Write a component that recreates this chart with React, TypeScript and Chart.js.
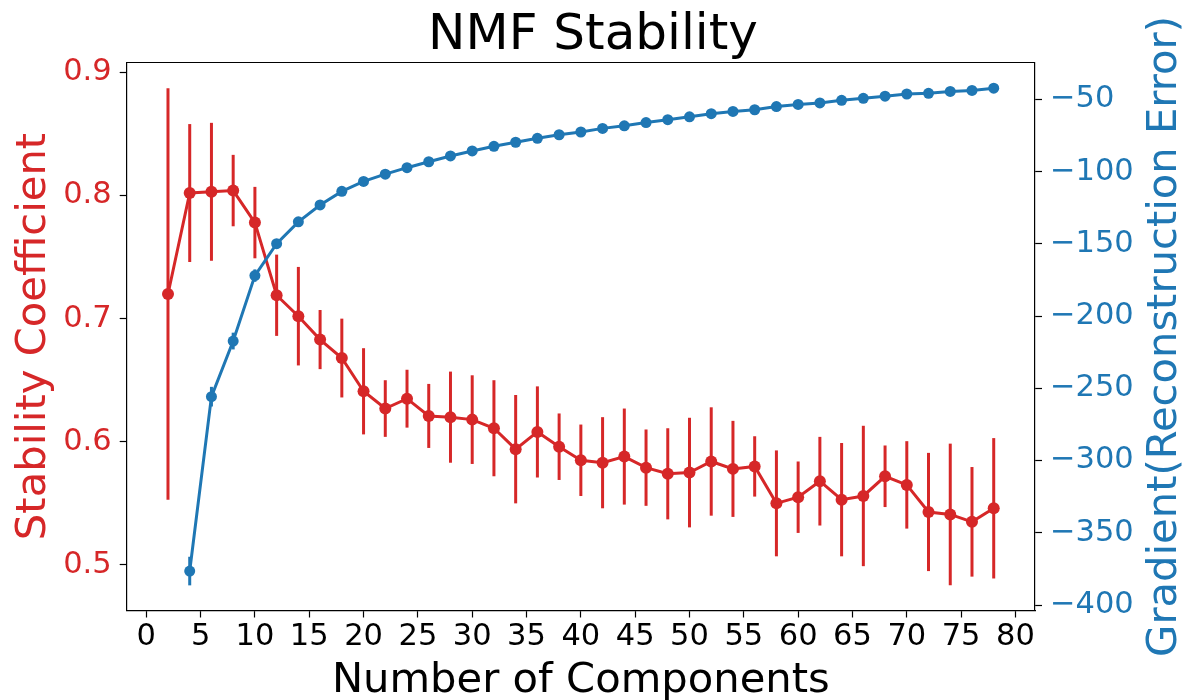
import React, { useEffect, useRef } from "react";
import { Chart, registerables } from "chart.js";

Chart.register(...registerables);

const FONT = "'DejaVu Sans', 'Liberation Sans', sans-serif";
const RED = "#d62728";
const BLUE = "#1f77b4";

// Stability coefficient (left axis)
const componentsRed = [2, 4, 6, 8, 10, 12, 14, 16, 18, 20, 22, 24, 26, 28, 30, 32, 34, 36, 38, 40, 42, 44, 46, 48, 50, 52, 54, 56, 58, 60, 62, 64, 66, 68, 70, 72, 74, 76, 78];
const stabilityMean = [0.72, 0.802, 0.803, 0.804, 0.778, 0.719, 0.702, 0.683, 0.668, 0.641, 0.627, 0.635, 0.621, 0.62, 0.618, 0.611, 0.594, 0.608, 0.596, 0.585, 0.583, 0.588, 0.579, 0.574, 0.575, 0.584, 0.578, 0.58, 0.55, 0.555, 0.568, 0.553, 0.556, 0.572, 0.565, 0.543, 0.541, 0.535, 0.546];
const stabilityErr = [0.167, 0.056, 0.056, 0.029, 0.029, 0.033, 0.04, 0.024, 0.032, 0.035, 0.023, 0.0235, 0.026, 0.037, 0.036, 0.039, 0.044, 0.037, 0.027, 0.029, 0.037, 0.039, 0.031, 0.037, 0.0445, 0.044, 0.039, 0.0245, 0.043, 0.029, 0.036, 0.046, 0.057, 0.025, 0.0355, 0.048, 0.0575, 0.0445, 0.057];

// Gradient of reconstruction error (right axis)
const componentsBlue = [4, 6, 8, 10, 12, 14, 16, 18, 20, 22, 24, 26, 28, 30, 32, 34, 36, 38, 40, 42, 44, 46, 48, 50, 52, 54, 56, 58, 60, 62, 64, 66, 68, 70, 72, 74, 76, 78];
const gradientMean = [-376.5, -255.8, -217.3, -172, -149.9, -134.8, -123.1, -113.7, -106.8, -101.8, -97.3, -93.2, -89.2, -85.7, -82.5, -79.7, -77.0, -74.5, -72.6, -70.1, -68.3, -66.1, -64.1, -62.1, -59.9, -58.4, -57.2, -55.0, -53.5, -52.5, -50.7, -49.3, -47.8, -46.3, -45.8, -44.5, -43.8, -42.3];
const gradientErr = [9.9, 6.8, 5.8, 4.3, 2.5, 2.0, 1.8, 1.5, 1.3, 1.2, 1.1, 1.0, 1.0, 0.9, 0.9, 0.8, 0.8, 0.8, 0.7, 0.7, 0.7, 0.7, 0.6, 0.6, 0.6, 0.6, 0.6, 0.6, 0.5, 0.5, 0.5, 0.5, 0.5, 0.5, 0.5, 0.5, 0.5, 0.5];

const xTicks = [0, 5, 10, 15, 20, 25, 30, 35, 40, 45, 50, 55, 60, 65, 70, 75, 80];
const leftTicks = [0.5, 0.6, 0.7, 0.8, 0.9];
const rightTicks = [-400, -350, -300, -250, -200, -150, -100, -50];

const TITLE = "NMF Stability";
const X_LABEL = "Number of Components";
const LEFT_LABEL = "Stability Coefficient";
const RIGHT_LABEL = "Gradient(Reconstruction Error)";

const errorsByDataset: number[][] = [gradientErr, stabilityErr];

const errorBarPlugin = {
  id: "errorBars",
  beforeDatasetDraw(chart: any, args: any) {
    const ds = chart.data.datasets[args.index];
    const errs = errorsByDataset[args.index];
    if (!errs) return;
    const xs = chart.scales.x;
    const ys = chart.scales[ds.yAxisID];
    const ctx = chart.ctx;
    ctx.save();
    ctx.strokeStyle = ds.borderColor;
    ctx.lineWidth = 3;
    ctx.lineCap = "butt";
    ds.data.forEach((p: any, i: number) => {
      const px = xs.getPixelForValue(p.x);
      ctx.beginPath();
      ctx.moveTo(px, ys.getPixelForValue(p.y - errs[i]));
      ctx.lineTo(px, ys.getPixelForValue(p.y + errs[i]));
      ctx.stroke();
    });
    ctx.restore();
  },
};

const framePlugin = {
  id: "frameAndTitles",
  afterDraw(chart: any) {
    const { ctx, chartArea } = chart;
    ctx.save();
    ctx.strokeStyle = "#000";
    ctx.lineWidth = 1.2;
    ctx.beginPath();
    ctx.moveTo(chartArea.left, chartArea.top);
    ctx.lineTo(chartArea.right, chartArea.top);
    ctx.stroke();

    const cx = (chartArea.left + chartArea.right) / 2;
    const cy = (chartArea.top + chartArea.bottom) / 2;
    ctx.font = `41.7px ${FONT}`;
    ctx.textAlign = "center";
    ctx.textBaseline = "alphabetic";

    ctx.fillStyle = "#000";
    ctx.fillText(X_LABEL, cx, 692);

    ctx.save();
    ctx.translate(45, cy);
    ctx.rotate(-Math.PI / 2);
    ctx.fillStyle = RED;
    ctx.fillText(LEFT_LABEL, 0, 0);
    ctx.restore();

    ctx.save();
    ctx.translate(1176, cy);
    ctx.rotate(-Math.PI / 2);
    ctx.fillStyle = BLUE;
    ctx.fillText(RIGHT_LABEL, 0, 0);
    ctx.restore();

    ctx.restore();
  },
};

const tickFont = { family: FONT, size: 30.5 };
const gridOpts = {
  drawOnChartArea: false,
  drawTicks: true,
  tickLength: 7,
  tickWidth: 1.2,
  tickColor: "#000",
};
const borderOpts = { color: "#000", width: 1.2 };

export default function App() {
  const ref = useRef<HTMLCanvasElement | null>(null);

  useEffect(() => {
    if (!ref.current) return;
    const chart = new Chart(ref.current, {
      type: "line",
      data: {
        datasets: [
          {
            label: "Gradient",
            data: componentsBlue.map((x, i) => ({ x, y: gradientMean[i] })),
            yAxisID: "y1",
            borderColor: BLUE,
            backgroundColor: BLUE,
            pointBackgroundColor: BLUE,
            pointBorderColor: BLUE,
            borderWidth: 3,
            pointRadius: 5.5,
            pointBorderWidth: 0,
            tension: 0,
            fill: false,
          },
          {
            label: "Stability",
            data: componentsRed.map((x, i) => ({ x, y: stabilityMean[i] })),
            yAxisID: "y",
            borderColor: RED,
            backgroundColor: RED,
            pointBackgroundColor: RED,
            pointBorderColor: RED,
            borderWidth: 3,
            pointRadius: 6,
            pointBorderWidth: 0,
            tension: 0,
            fill: false,
          },
        ],
      },
      options: {
        responsive: false,
        animation: false,
        events: [],
        layout: { padding: 0 },
        plugins: {
          legend: { display: false },
          tooltip: { enabled: false },
          title: {
            display: true,
            text: TITLE,
            color: "#000",
            font: { family: FONT, size: 50, weight: "normal", lineHeight: 1 },
            padding: { top: 11, bottom: 1.5 },
          },
        },
        scales: {
          x: {
            type: "linear",
            min: -1.8,
            max: 81.8,
            afterBuildTicks: (s: any) => {
              s.ticks = xTicks.map((v) => ({ value: v }));
            },
            afterFit: (s: any) => {
              s.height = 89.5;
            },
            ticks: {
              font: tickFont,
              color: "#000",
              padding: 1,
              autoSkip: false,
              maxRotation: 0,
              callback: (v: any) => String(v),
            },
            grid: gridOpts,
            border: borderOpts,
          },
          y: {
            type: "linear",
            position: "left",
            min: 0.463,
            max: 0.908,
            afterBuildTicks: (s: any) => {
              s.ticks = leftTicks.map((v) => ({ value: v }));
            },
            afterFit: (s: any) => {
              s.width = 126.7;
            },
            ticks: {
              font: tickFont,
              color: RED,
              padding: 8,
              autoSkip: false,
              callback: (v: any) => Number(v).toFixed(1),
            },
            grid: gridOpts,
            border: borderOpts,
          },
          y1: {
            type: "linear",
            position: "right",
            min: -403.8,
            max: -24.5,
            afterBuildTicks: (s: any) => {
              s.ticks = rightTicks.map((v) => ({ value: v }));
            },
            afterFit: (s: any) => {
              s.width = 151;
            },
            ticks: {
              font: tickFont,
              color: BLUE,
              padding: 8,
              autoSkip: false,
              callback: (v: any) => (Number(v) < 0 ? "\u2212" + Math.abs(Number(v)) : String(v)),
            },
            grid: gridOpts,
            border: borderOpts,
          },
        },
      },
      plugins: [errorBarPlugin, framePlugin],
    } as any);
    return () => chart.destroy();
  }, []);

  return (
    <div style={{ position: "fixed", left: 0, top: 0, width: 1186, height: 700, background: "#fff" }}>
      <canvas ref={ref} width={1186} height={700} style={{ width: 1186, height: 700 }} />
    </div>
  );
}
